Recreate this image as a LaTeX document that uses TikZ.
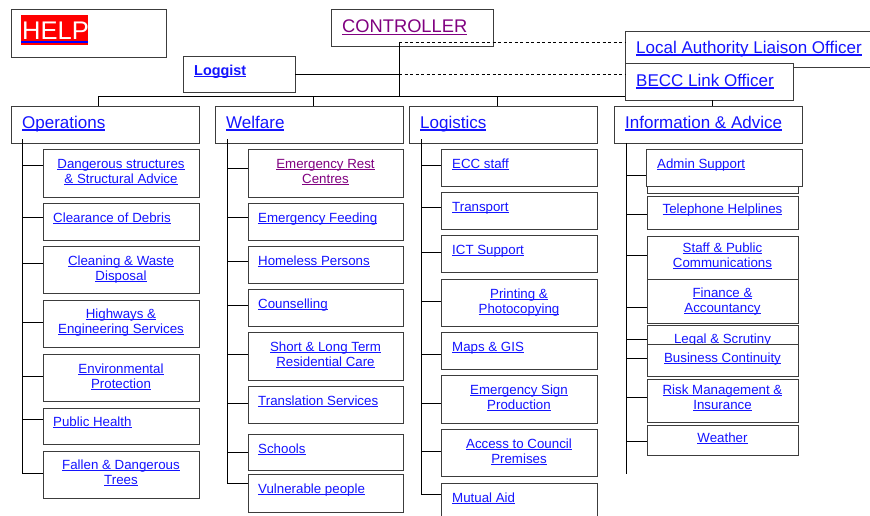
\documentclass[tikz,border=0pt]{standalone}
\usepackage{fontspec}
\setmainfont{Liberation Sans}
\definecolor{lnk}{RGB}{20,20,255}
\definecolor{vis}{RGB}{128,0,128}
\definecolor{bord}{RGB}{60,60,60}
\newcommand{\ulk}[1]{\leavevmode\setbox0=\hbox{#1}\rlap{\rule[-0.16em]{\wd0}{0.075em}}\box0}
\newcommand{\bx}[5]{\node[boxst, minimum width={(#4-#2)*1pt}, minimum height={(#5-#3)*1pt}] (#1) at (#2,#3) {};}
% left aligned single line: name, xoff, yoff, text
\newcommand{\lt}[4]{\node[txt,anchor=base west] (#1t) at ([xshift=#2pt,yshift=-#3pt]#1.north west) {\ulk{#4}};}
% centered single line: name, yoff, text
\newcommand{\ct}[3]{\node[txt,anchor=base] (#1t) at ([yshift=-#2pt]#1.north) {\ulk{#3}};}
% centered two lines: name, yoff, line1, line2
\newcommand{\cc}[4]{\node[txt,anchor=base] (#1a) at ([yshift=-#2pt]#1.north) {\ulk{#3}};
\node[txt,anchor=base] (#1b) at ([yshift=-#2pt-15pt]#1.north) {\ulk{#4}};}
\tikzset{
  boxst/.style={draw=bord, line width=1pt, fill=white, inner sep=0pt, outer sep=0pt, anchor=north west},
  txt/.style={text=lnk, font=\fontsize{13.3}{15}\selectfont, inner sep=0pt},
  head/.style={text=lnk, font=\fontsize{17}{20}\selectfont, inner sep=0pt, anchor=base west},
  conn/.style={draw=black, line width=0.9pt},
  dconn/.style={draw=black, line width=0.9pt, dash pattern=on 3pt off 2.5pt}
}
\begin{document}
\begin{tikzpicture}[x=1pt,y=-1pt]
\useasboundingbox (0,0) rectangle (870,515);
\clip (0,0) rectangle (870,515);
\fill[white] (0,0) rectangle (870,515);

% ---------- top level ----------
\bx{help}{11}{9}{166}{57}
\node[fill=red, inner sep=0pt, outer sep=0pt, minimum width=67pt, minimum height=30pt, anchor=north west] (helpbg) at (21,15) {};
\node[text=white, font=\fontsize{25.5}{30}\selectfont, inner sep=0pt, anchor=base west] (helpt) at (22,39) {HELP};
\node[fill=blue, inner sep=0pt, outer sep=0pt, minimum width=67pt, minimum height=2.2pt, anchor=north west] (helpul) at (21,41) {};

\bx{ctrl}{331}{9}{493}{46}
\node[head, text=vis, font=\fontsize{18.3}{22}\selectfont] (ctrlt) at ([xshift=11pt,yshift=-23pt]ctrl.north west) {\ulk{CONTROLLER}};

\bx{logg}{183}{56}{295}{92}
\node[head, font=\bfseries\fontsize{14.4}{17}\selectfont] (loggt) at ([xshift=11pt,yshift=-19pt]logg.north west) {\ulk{Loggist}};

\bx{lalo}{625}{31}{885}{67}
\node[head] (lalot) at ([xshift=11pt,yshift=-22pt]lalo.north west) {\ulk{Local Authority Liaison Officer}};
\bx{becc}{625}{63}{793}{100}
\node[head] (becct) at ([xshift=11pt,yshift=-23pt]becc.north west) {\ulk{BECC Link Officer}};

% ---------- headers ----------
\bx{ops}{11}{106}{199}{143}
\node[head] (opst) at ([xshift=11pt,yshift=-22pt]ops.north west) {\ulk{Operations}};
\bx{wel}{215}{106}{403}{143}
\node[head] (welt) at ([xshift=11pt,yshift=-22pt]wel.north west) {\ulk{Welfare}};
\bx{log}{409}{106}{597}{143}
\node[head] (logt) at ([xshift=11pt,yshift=-22pt]log.north west) {\ulk{Logistics}};
\bx{inf}{614}{106}{802}{143}
\node[head] (inft) at ([xshift=11pt,yshift=-22pt]inf.north west) {\ulk{Information \& Advice}};

% ---------- top connectors ----------
\coordinate (cj) at (399,42);
\coordinate (bj) at (399,96);
\draw[conn] (cj) -- (bj);
\draw[dconn] (cj) -- (lalo.west |- cj);
\draw[conn] (logg.east |- 0,74) -- (399,74);
\draw[dconn] (399,74) -- (becc.west |- 0,74);
\draw[conn] (98,96) -- (becc.west |- 0,96);
\draw[conn] (98,96) -- (ops.north -| 98,0);
\draw[conn] (313,96) -- (wel.north -| 313,0);
\draw[conn] (497,96) -- (log.north -| 497,0);
\draw[conn] (becc.south -| 712,0) -- (inf.north -| 712,0);

% ---------- Operations ----------
\bx{o1}{43}{149}{199}{197}   \cc{o1}{19}{Dangerous structures}{\& Structural Advice}
\bx{o2}{43}{203}{199}{240}   \lt{o2}{10}{19}{Clearance of Debris}
\bx{o3}{43}{246}{199}{293}   \cc{o3}{19}{Cleaning \& Waste}{Disposal}
\bx{o4}{43}{300}{199}{347}   \cc{o4}{18}{Highways \&}{Engineering Services}
\bx{o5}{43}{354}{199}{401}   \cc{o5}{19}{Environmental}{Protection}
\bx{o6}{43}{408}{199}{444}   \lt{o6}{10}{18}{Public Health}
\bx{o7}{43}{451}{199}{498}   \cc{o7}{18}{Fallen \& Dangerous}{Trees}
\draw[conn] (22,139) -- (22,473);
\foreach \n/\y in {o1/165,o2/217,o3/263,o4/322,o5/376,o6/419,o7/473}
  \draw[conn] (22,\y) -- (\n.west |- 0,\y);

% ---------- Welfare ----------
\bx{w1}{248}{149}{403}{197}
\node[txt,anchor=base,text=vis] (w1a) at ([yshift=-19pt]w1.north) {\ulk{Emergency Rest}};
\node[txt,anchor=base,text=vis] (w1b) at ([yshift=-34pt]w1.north) {\ulk{Centres}};
\bx{w2}{248}{203}{403}{240}  \lt{w2}{10}{19}{Emergency Feeding}
\bx{w3}{248}{246}{403}{283}  \lt{w3}{10}{19}{Homeless Persons}
\bx{w4}{248}{289}{403}{326}  \lt{w4}{10}{19}{Counselling}
\bx{w5}{248}{332}{403}{380}  \cc{w5}{19}{Short \& Long Term}{Residential Care}
\bx{w6}{248}{386}{403}{423}  \lt{w6}{10}{19}{Translation Services}
\bx{w7}{248}{434}{403}{470}  \lt{w7}{10}{19}{Schools}
\bx{w8}{248}{474}{403}{512}  \lt{w8}{10}{19}{Vulnerable people}
\draw[conn] (227,139) -- (227,483);
\foreach \n/\y in {w1/168,w2/217,w3/261,w4/305,w5/354,w6/403,w7/452,w8/483}
  \draw[conn] (227,\y) -- (\n.west |- 0,\y);

% ---------- Logistics ----------
\bx{l1}{441}{149}{597}{186}  \lt{l1}{11}{19}{ECC staff}
\bx{l2}{441}{192}{597}{229}  \lt{l2}{11}{19}{Transport}
\bx{l3}{441}{235}{597}{272}  \lt{l3}{11}{19}{ICT Support}
\bx{l4}{441}{279}{597}{326}  \cc{l4}{19}{Printing \&}{Photocopying}
\bx{l5}{441}{332}{597}{369}  \lt{l5}{11}{19}{Maps \& GIS}
\bx{l6}{441}{375}{597}{423}  \cc{l6}{19}{Emergency Sign}{Production}
\bx{l7}{441}{429}{597}{476}  \cc{l7}{19}{Access to Council}{Premises}
\bx{l8}{441}{483}{597}{530}  \lt{l8}{11}{19}{Mutual Aid}
\draw[conn] (421,139) -- (421,494);
\foreach \n/\y in {l1/165,l2/207,l3/252,l4/301,l5/354,l6/403,l7/451,l8/494}
  \draw[conn] (421,\y) -- (\n.west |- 0,\y);

% ---------- Information & Advice ----------
\bx{i1b}{647}{150}{798}{193}
\bx{i1}{646}{149}{802}{186}  \lt{i1}{11}{19}{Admin Support}
\bx{i2}{647}{196}{798}{229}  \ct{i2}{17}{Telephone Helplines}
\bx{i3}{647}{236}{798}{279}  \cc{i3}{16}{Staff \& Public}{Communications}
\bx{i4}{647}{279}{798}{323}  \cc{i4}{18}{Finance \&}{Accountancy}
\bx{i5}{647}{325}{798}{344}  \ct{i5}{18.5}{Legal \& Scrutiny}
\bx{i6}{647}{344}{798}{376}  \ct{i6}{18}{Business Continuity}
\bx{i7}{647}{379}{798}{422}  \cc{i7}{15}{Risk Management \&}{Insurance}
\bx{i8}{647}{425}{798}{455}  \ct{i8}{17}{Weather}
\draw[conn] (inf.south -| 626,0) -- (626,474);
\foreach \n/\y in {i1/175,i2/214,i3/255,i4/307,i5/339,i6/358,i7/397,i8/441}
  \draw[conn] (626,\y) -- (\n.west |- 0,\y);
\end{tikzpicture}
\end{document}
